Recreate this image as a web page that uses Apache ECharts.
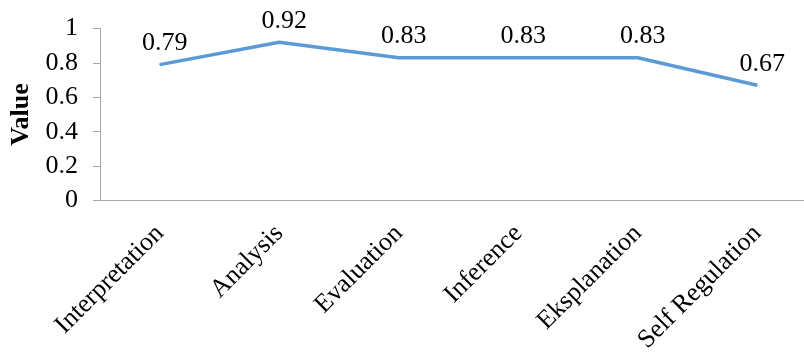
<!DOCTYPE html>
<html>
<head>
<meta charset="utf-8">
<script src="https://cdn.jsdelivr.net/npm/echarts@6/dist/echarts.min.js"></script>
<style>html,body{margin:0;padding:0;background:#fff;}#c{width:804px;height:352px;}</style>
</head>
<body>
<div id="c"></div>
<script>
const categories = ['Interpretation', 'Analysis', 'Evaluation', 'Inference', 'Eksplanation', 'Self Regulation'];
const values = [0.79, 0.92, 0.83, 0.83, 0.83, 0.67];
const yTicks = {min: 0, max: 1, interval: 0.2};
const yName = 'Value';

const font = '"Liberation Serif", "Times New Roman", serif';
const chart = echarts.init(document.getElementById('c'), null, {renderer: 'canvas'});
chart.setOption({
  animation: false,
  grid: {left: 100, top: 28.5, height: 172, width: 717, outerBoundsMode: 'none', containLabel: false},
  xAxis: {
    type: 'category',
    data: categories,
    boundaryGap: true,
    axisLine: {show: true, lineStyle: {color: '#a6a6a6', width: 1}},
    axisTick: {show: false},
    axisLabel: {rotate: 45, margin: 29, color: '#000', fontFamily: font, fontSize: 26, interval: 0}
  },
  yAxis: {
    type: 'value',
    min: yTicks.min, max: yTicks.max, interval: yTicks.interval,
    name: yName,
    nameLocation: 'middle',
    nameGap: 57,
    nameTextStyle: {color: '#000', fontFamily: font, fontSize: 26, fontWeight: 'bold'},
    axisLine: {show: true, lineStyle: {color: '#a6a6a6', width: 1}},
    axisTick: {show: true, inside: false, length: 7, lineStyle: {color: '#a6a6a6'}},
    splitLine: {show: false},
    axisLabel: {margin: 22, color: '#000', fontFamily: font, fontSize: 26}
  },
  series: [{
    type: 'line',
    data: values,
    symbol: 'circle',
    symbolSize: 1,
    showSymbol: true,
    itemStyle: {color: '#5b9bd5'},
    lineStyle: {color: '#5b9bd5', width: 3.5},
    label: {show: true, position: 'top', distance: 8, offset: [5, 0], opacity: 1, color: '#000', fontFamily: font, fontSize: 26}
  }]
});
</script>
</body>
</html>
